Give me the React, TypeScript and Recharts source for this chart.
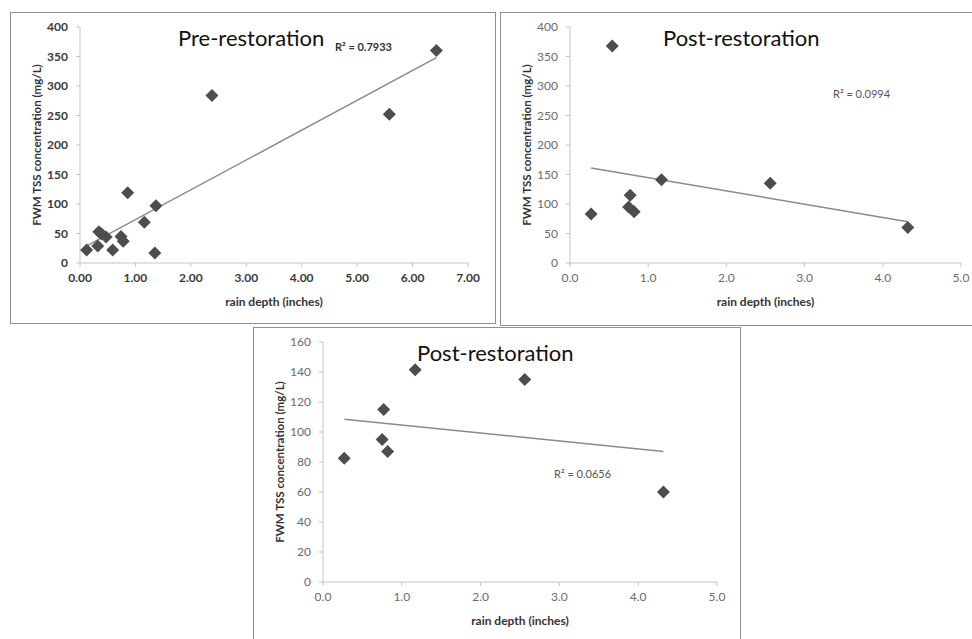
import React from "react";
import { ScatterChart, Scatter, XAxis, YAxis, ReferenceLine } from "recharts";

// pre-restoration storms
const preRain = [0.12, 0.32, 0.34, 0.39, 0.47, 0.59, 0.74, 0.78, 0.86, 1.16, 1.35, 1.37, 2.38, 5.58, 6.43];
const preTss = [22, 29, 53, 49, 44, 22, 45, 37, 119, 69, 17, 97, 284, 252, 360];
const preTrend = [[0.12, 29], [6.43, 348]];

// post-restoration storms (all)
const postRain = [0.27, 0.54, 0.75, 0.77, 0.82, 1.17, 2.56, 4.32];
const postTss = [83, 368, 95, 115, 87, 141, 135, 60];
const postTrend = [[0.27, 161], [4.32, 70]];

// post-restoration without the 368 mg/L event
const post2Rain = [0.27, 0.75, 0.77, 0.82, 1.17, 2.56, 4.32];
const post2Tss = [82.5, 95, 115, 87, 141.5, 135, 60];
const post2Trend = [[0.27, 108.5], [4.32, 87]];

const preXTicks = [0, 1, 2, 3, 4, 5, 6, 7];
const postXTicks = [0, 1, 2, 3, 4, 5];
const wideYTicks = [0, 50, 100, 150, 200, 250, 300, 350, 400];
const narrowYTicks = [0, 20, 40, 60, 80, 100, 120, 140, 160];

const toPoints = (xs: number[], ys: number[]) => xs.map((x, i) => ({ x, y: ys[i] }));

const Diamond = (props: any) => {
  const { cx, cy } = props;
  const r = 6.5;
  return <path d={`M${cx},${cy - r}L${cx + r},${cy}L${cx},${cy + r}L${cx - r},${cy}Z`} fill="#4d4d4d" />;
};

interface PanelProps {
  left: number; top: number; width: number; height: number;
  right: number; bottom: number;
  data: { x: number; y: number }[];
  trend: number[][];
  xTicks: number[]; yTicks: number[]; digits: number;
  boldTicks?: boolean;
}

function Panel(p: PanelProps) {
  const tickColor = p.boldTicks ? "#3a3a3a" : "#6b6b6b";
  const tick = { fill: tickColor, fontSize: 12, fontWeight: p.boldTicks ? 700 : 400 };
  const axisLine = { stroke: "#c4c4c4" };
  return (
    <div style={{ position: "absolute", left: p.left, top: p.top }}>
      <ScatterChart width={p.width} height={p.height} margin={{ top: 15, right: p.right, bottom: p.bottom, left: 0 }}>
        <XAxis
          type="number" dataKey="x" domain={[p.xTicks[0], p.xTicks[p.xTicks.length - 1]]} ticks={p.xTicks}
          tickFormatter={(v: number) => v.toFixed(p.digits)} height={50}
          axisLine={axisLine} tickLine={axisLine} tickSize={4} tickMargin={6} tick={tick}
          label={{ value: "rain depth (inches)", position: "insideBottom", offset: 7, fill: "#333", fontSize: 12, fontWeight: 700 }}
        />
        <YAxis
          type="number" dataKey="y" domain={[p.yTicks[0], p.yTicks[p.yTicks.length - 1]]} ticks={p.yTicks}
          width={70} axisLine={axisLine} tickLine={axisLine} tickSize={4} tickMargin={8} tick={tick}
          label={{ value: "FWM TSS concentration (mg/L)", angle: -90, position: "insideLeft", offset: 27, fill: "#333", fontSize: 11.5, fontWeight: 700, style: { textAnchor: "middle" } }}
        />
        <ReferenceLine
          segment={[{ x: p.trend[0][0], y: p.trend[0][1] }, { x: p.trend[1][0], y: p.trend[1][1] }]}
          stroke="#8a8a8a" strokeWidth={1.5} ifOverflow="visible"
        />
        <Scatter data={p.data} shape={<Diamond />} isAnimationActive={false} />
      </ScatterChart>
    </div>
  );
}

const box = (left: number, top: number, width: number, height: number): React.CSSProperties => ({
  position: "absolute", left, top, width, height, border: "1.5px solid #8f8f8f", boxSizing: "border-box",
});

const title: React.CSSProperties = { position: "absolute", fontSize: 22, lineHeight: "26px", color: "#111", whiteSpace: "nowrap" };
const r2: React.CSSProperties = { position: "absolute", fontSize: 11, lineHeight: "14px", whiteSpace: "nowrap" };

export default function App() {
  return (
    <div style={{ position: "absolute", left: 0, top: 0, width: 972, height: 639, background: "#fff", fontFamily: "Lato, 'Open Sans', sans-serif", overflow: "hidden" }}>
      <div style={box(10, 12, 486, 312)} />
      <div style={box(500, 12, 474, 314)} />
      <div style={box(253, 327, 488, 320)} />

      <Panel left={10} top={12} width={485} height={311} right={27} bottom={10}
        data={toPoints(preRain, preTss)} trend={preTrend} xTicks={preXTicks} yTicks={wideYTicks} digits={2} boldTicks />
      <Panel left={500} top={12} width={472} height={313} right={11} bottom={12}
        data={toPoints(postRain, postTss)} trend={postTrend} xTicks={postXTicks} yTicks={wideYTicks} digits={1} />
      <Panel left={253} top={327} width={487} height={312} right={23} bottom={7}
        data={toPoints(post2Rain, post2Tss)} trend={post2Trend} xTicks={postXTicks} yTicks={narrowYTicks} digits={1} />

      <div style={{ ...title, left: 178, top: 25 }}>Pre-restoration</div>
      <div style={{ ...r2, left: 335, top: 40, fontWeight: 700, color: "#333" }}>R² = 0.7933</div>

      <div style={{ ...title, left: 663, top: 25 }}>Post-restoration</div>
      <div style={{ ...r2, left: 833, top: 87, color: "#555" }}>R² = 0.0994</div>

      <div style={{ ...title, left: 417, top: 340 }}>Post-restoration</div>
      <div style={{ ...r2, left: 554, top: 467, color: "#555" }}>R² = 0.0656</div>
    </div>
  );
}
